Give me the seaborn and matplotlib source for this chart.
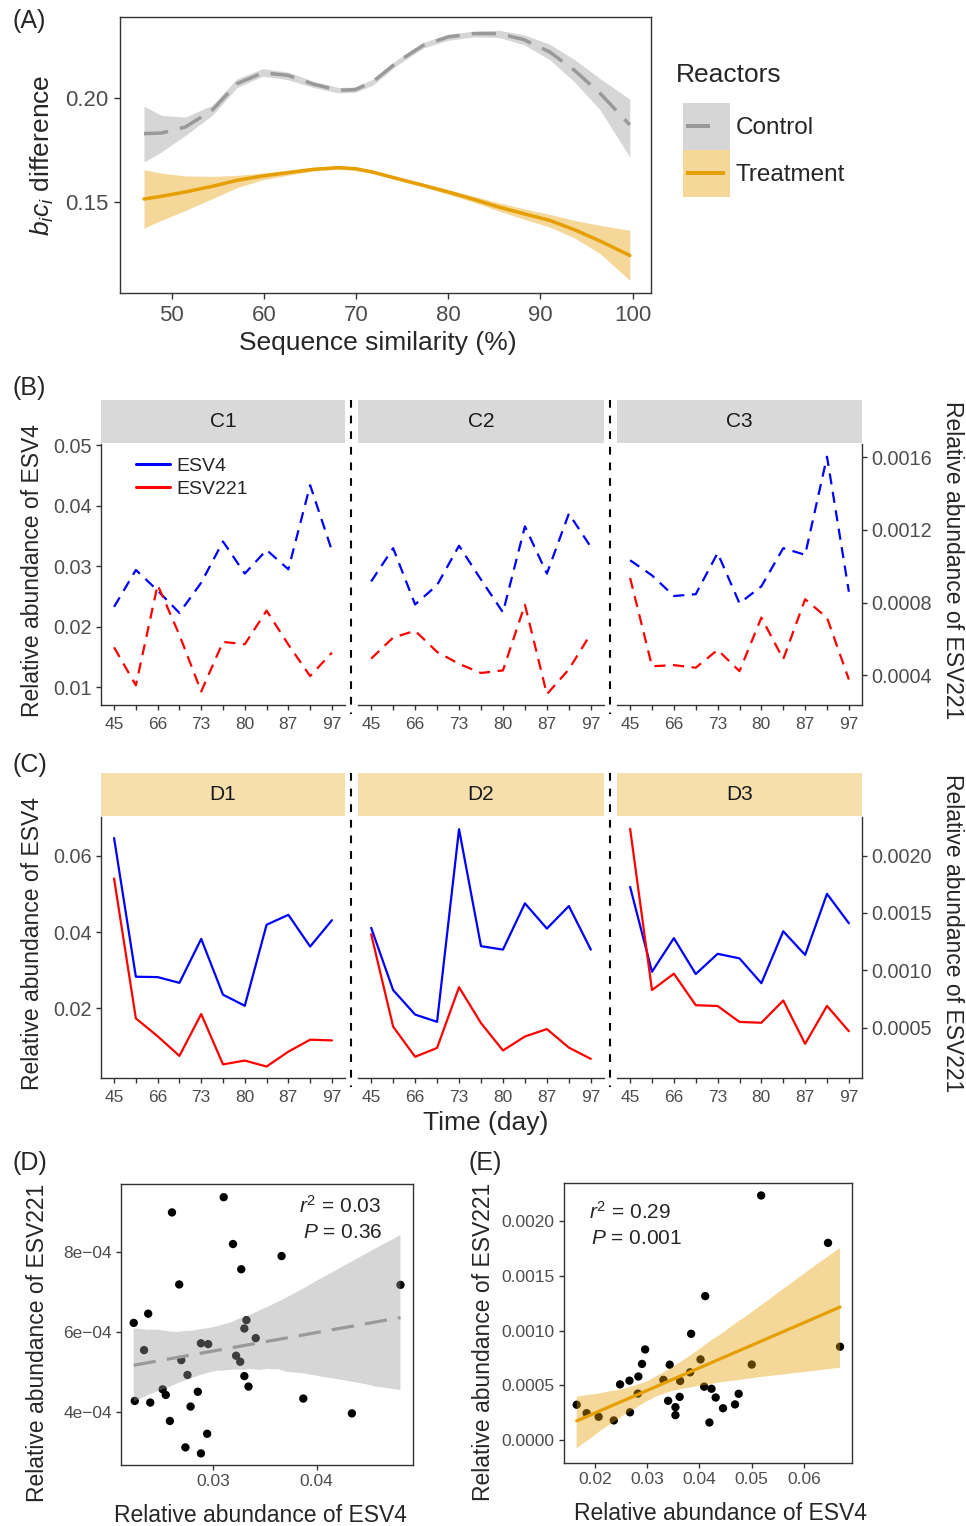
import numpy as np
import pandas as pd
import seaborn as sns
import matplotlib.pyplot as plt
from matplotlib.lines import Line2D
from matplotlib.patches import Patch, Rectangle
from matplotlib.collections import PolyCollection
from matplotlib.legend_handler import HandlerTuple, HandlerPatch
from matplotlib.ticker import FuncFormatter

# ---------------- data ----------------
# (A) smoothed b_ic_i difference along sequence similarity (fit + 95% band)
similarity = [47.0, 48.9, 51.5, 54.4, 57.1, 59.9, 62.6, 65.4, 68.1, 69.9, 71.8,
              74.5, 77.3, 80.0, 82.8, 85.5, 88.2, 91.0, 93.7, 96.5, 99.7]
control_fit = [0.1828, 0.1831, 0.1860, 0.1941, 0.2069, 0.2121, 0.2109, 0.2066, 0.2037, 0.2040, 0.2077,
               0.2174, 0.2254, 0.2294, 0.2310, 0.2310, 0.2281, 0.2222, 0.2133, 0.2021, 0.1870]
control_lo = [0.1691, 0.1740, 0.1820, 0.1916, 0.2050, 0.2105, 0.2088, 0.2050, 0.2024, 0.2027, 0.2061,
              0.2159, 0.2240, 0.2278, 0.2294, 0.2291, 0.2257, 0.2185, 0.2077, 0.1941, 0.1715]
control_hi = [0.1960, 0.1916, 0.1908, 0.1965, 0.2093, 0.2141, 0.2125, 0.2080, 0.2050, 0.2053, 0.2090,
              0.2186, 0.2267, 0.2307, 0.2322, 0.2326, 0.2305, 0.2259, 0.2185, 0.2093, 0.1994]
treatment_fit = [0.1513, 0.1526, 0.1547, 0.1574, 0.1603, 0.1624, 0.1640, 0.1656, 0.1664, 0.1659, 0.1643,
                 0.1611, 0.1579, 0.1547, 0.1511, 0.1474, 0.1442, 0.1410, 0.1365, 0.1310, 0.1241]
treatment_lo = [0.1373, 0.1410, 0.1458, 0.1514, 0.1568, 0.1606, 0.1627, 0.1648, 0.1656, 0.1651, 0.1635,
                0.1603, 0.1571, 0.1535, 0.1497, 0.1455, 0.1416, 0.1378, 0.1325, 0.1249, 0.1121]
treatment_hi = [0.1654, 0.1638, 0.1624, 0.1622, 0.1627, 0.1638, 0.1651, 0.1664, 0.1672, 0.1669, 0.1651,
                0.1619, 0.1587, 0.1558, 0.1526, 0.1495, 0.1466, 0.1439, 0.1410, 0.1386, 0.1362]

# (B)/(C) relative abundance over 11 samplings per reactor
day_labels = ['45', '', '66', '', '73', '', '80', '', '87', '', '97']
sampling = np.arange(len(day_labels))

control_reactors = ['C1', 'C2', 'C3']
control_esv4 = [
    [0.0233, 0.0294, 0.0260, 0.0223, 0.0273, 0.0341, 0.0288, 0.0327, 0.0295, 0.0434, 0.0326],
    [0.0275, 0.0330, 0.0237, 0.0269, 0.0334, 0.0278, 0.0224, 0.0366, 0.0288, 0.0387, 0.0332],
    [0.0310, 0.0285, 0.0251, 0.0254, 0.0322, 0.0239, 0.0267, 0.0330, 0.0319, 0.0481, 0.0258],
]
control_esv221 = [
    [0.000554, 0.000345, 0.000898, 0.000622, 0.000311, 0.000584, 0.000571, 0.000756, 0.000569, 0.000396, 0.000525],
    [0.000492, 0.000608, 0.000645, 0.000529, 0.000463, 0.000413, 0.000427, 0.000789, 0.000296, 0.000433, 0.000629],
    [0.000936, 0.000450, 0.000456, 0.000442, 0.000540, 0.000423, 0.000718, 0.000489, 0.000819, 0.000717, 0.000377],
]

treatment_reactors = ['D1', 'D2', 'D3']
treatment_esv4 = [
    [0.0646, 0.0283, 0.0282, 0.0267, 0.0382, 0.0236, 0.0207, 0.0419, 0.0445, 0.0362, 0.0431],
    [0.0411, 0.0248, 0.0184, 0.0165, 0.0669, 0.0363, 0.0354, 0.0475, 0.0409, 0.0468, 0.0354],
    [0.0518, 0.0296, 0.0384, 0.0290, 0.0343, 0.0331, 0.0266, 0.0402, 0.0340, 0.0500, 0.0423],
]
treatment_esv221 = [
    [0.001800, 0.000580, 0.000424, 0.000253, 0.000618, 0.000179, 0.000212, 0.000160, 0.000290, 0.000394, 0.000388],
    [0.001314, 0.000508, 0.000245, 0.000322, 0.000852, 0.000539, 0.000300, 0.000422, 0.000487, 0.000325, 0.000227],
    [0.002233, 0.000827, 0.000970, 0.000695, 0.000688, 0.000549, 0.000542, 0.000736, 0.000358, 0.000689, 0.000468],
]

# ---------------- style ----------------
sns.set_style("ticks")
plt.rcParams['font.family'] = ['Liberation Sans', 'DejaVu Sans']
plt.rcParams['mathtext.fontset'] = 'custom'
plt.rcParams['mathtext.rm'] = 'Liberation Sans'
plt.rcParams['mathtext.it'] = 'Liberation Sans:italic'
plt.rcParams['axes.unicode_minus'] = True

GRAY_LINE = '#999999'
ORANGE = '#E69F00'
AXIS_COL = '#333333'
TICK_TXT = '#4D4D4D'

W, H = 966, 1526
fig = plt.figure(figsize=(W / 100, H / 100), dpi=100)


def box(l, t, r, b):
    return [l / W, 1 - b / H, (r - l) / W, (b - t) / H]


def fx(x):
    return x / W


def fy(y):
    return 1 - y / H


def style_spines(ax, sides):
    for s in ['left', 'right', 'top', 'bottom']:
        ax.spines[s].set_visible(s in sides)
        ax.spines[s].set_color(AXIS_COL)
        ax.spines[s].set_linewidth(1.0)


def style_ticks(ax, size):
    ax.tick_params(colors=AXIS_COL, labelcolor=TICK_TXT, labelsize=size,
                   length=3.6, width=1.0, pad=3)


def key_bar(length):
    # short thick bar centred in the legend key (ggplot-style line key)
    def make(legend, orig_handle, xdescent, ydescent, width, height, fontsize):
        th = 2.8
        return Rectangle((-xdescent + 2.2, height / 2 - ydescent - th / 2),
                         length(width), th)
    return make


# ---------------- (A) ----------------
axA = fig.add_axes(box(120, 17, 651, 293))
axA.fill_between(similarity, control_lo, control_hi, color=GRAY_LINE, alpha=0.4, lw=0)
axA.fill_between(similarity, treatment_lo, treatment_hi, color=ORANGE, alpha=0.4, lw=0)
sns.lineplot(x=similarity, y=control_fit, ax=axA, color=GRAY_LINE, lw=2.5,
             linestyle=(0, (7, 3.5)))
sns.lineplot(x=similarity, y=treatment_fit, ax=axA, color=ORANGE, lw=2.5)
axA.set_xlim(44.4, 102.0)
axA.set_ylim(0.106, 0.239)
axA.set_xticks([50, 60, 70, 80, 90, 100])
axA.set_yticks([0.15, 0.20])
axA.yaxis.set_major_formatter(FuncFormatter(lambda v, p: f"{v:.2f}"))
axA.set_xlabel('')
axA.set_ylabel('')
style_spines(axA, ['left', 'right', 'top', 'bottom'])
style_ticks(axA, 16)
axA.tick_params(length=4.5, pad=4)

fig.text(fx(378), fy(343), 'Sequence similarity (%)', ha='center', va='center', fontsize=19)
fig.text(fx(42), fy(155), r'$b_ic_i$ difference', ha='center', va='center',
         rotation=90, fontsize=19)

fig.text(fx(676), fy(75), 'Reactors', ha='left', va='center', fontsize=19)
ctrl_bar = Patch(facecolor=GRAY_LINE, edgecolor='none')
trt_bar = Patch(facecolor=ORANGE, edgecolor='none')
handles_A = [
    (Patch(facecolor=GRAY_LINE, alpha=0.4, edgecolor='none'), ctrl_bar),
    (Patch(facecolor=ORANGE, alpha=0.4, edgecolor='none'), trt_bar),
]
fig.legend(handles=handles_A, labels=['Control', 'Treatment'],
           handler_map={tuple: HandlerTuple(ndivide=1, pad=0),
                        ctrl_bar: HandlerPatch(patch_func=key_bar(lambda w: 17.3)),
                        trt_bar: HandlerPatch(patch_func=key_bar(lambda w: w - 5.5))},
           loc='upper left', bbox_to_anchor=(fx(683), fy(103)), frameon=False,
           fontsize=17.5, handlelength=1.93, handleheight=2.59, labelspacing=0,
           handletextpad=0.25, borderpad=0, borderaxespad=0)


# ---------------- (B) and (C) ----------------
FACET_X = [(101, 345), (358, 604), (617, 862)]


def facet_row(reactors, esv4, esv221, strip_top, panel_bottom, strip_color,
              ylim, lticks, rticks, lfmt, rfmt, line_style, legend=False):
    strip_bottom = strip_top + 43
    for i, (name, (l, r)) in enumerate(zip(reactors, FACET_X)):
        strip = fig.add_axes(box(l, strip_top, r, strip_bottom))
        strip.set_facecolor(strip_color)
        strip.set_xticks([])
        strip.set_yticks([])
        style_spines(strip, [])
        strip.text(0.5, 0.5, name, ha='center', va='center', fontsize=15,
                   transform=strip.transAxes, color='#1A1A1A')

        ax = fig.add_axes(box(l, strip_bottom + 1, r, panel_bottom))
        ax.set_facecolor('none')
        sns.lineplot(x=sampling, y=esv4[i], ax=ax, color='blue', lw=1.6,
                     linestyle=line_style)
        ax.set_xlim(-0.6, 10.6)
        ax.set_ylim(*ylim)
        ax.set_xticks(sampling)
        ax.set_xticklabels(day_labels)
        ax.set_yticks(lticks)
        ax.yaxis.set_major_formatter(FuncFormatter(lfmt))
        ax.set_xlabel('')
        ax.set_ylabel('')

        tw = ax.twinx()
        sns.lineplot(x=sampling, y=esv221[i], ax=tw, color='red', lw=1.6,
                     linestyle=line_style)
        tw.set_ylim(ylim[0] / 30, ylim[1] / 30)
        tw.set_yticks(rticks)
        tw.yaxis.set_major_formatter(FuncFormatter(rfmt))
        tw.set_ylabel('')
        tw.set_xlabel('')

        style_ticks(ax, 12.5)
        style_ticks(tw, 14.3)
        ax.tick_params(axis='y', labelsize=14.3)
        ax.tick_params(axis='x', pad=5)
        if i == 0:
            style_spines(ax, ['left', 'bottom'])
        else:
            style_spines(ax, ['bottom'])
            ax.tick_params(axis='y', left=False, labelleft=False)
        if i == 2:
            style_spines(tw, ['right'])
        else:
            style_spines(tw, [])
            tw.tick_params(axis='y', right=False, labelright=False)

        if legend and i == 0:
            lh = [Line2D([], [], color='blue', lw=2.2), Line2D([], [], color='red', lw=2.2)]
            ax.legend(handles=lh, labels=['ESV4', 'ESV221'], loc='upper left',
                      bbox_to_anchor=(fx(136), fy(457)), bbox_transform=fig.transFigure,
                      frameon=False, fontsize=14, handlelength=1.75, handletextpad=0.35,
                      labelspacing=0.3, borderpad=0, borderaxespad=0)

    for xsep in (351, 610):
        fig.add_artist(Line2D([fx(xsep), fx(xsep)], [fy(strip_top), fy(panel_bottom + 9)],
                              transform=fig.transFigure, color='black', lw=1.5,
                              linestyle=(0, (3.7, 3.8))))

    mid = (strip_bottom + panel_bottom) / 2
    fig.text(fx(33), fy(mid - 3), 'Relative abundance of ESV4', rotation=90,
             ha='center', va='center', fontsize=16.5)
    fig.text(fx(952), fy(mid - 14), 'Relative abundance of ESV221', rotation=270,
             ha='center', va='center', fontsize=16.5)


facet_row(control_reactors, control_esv4, control_esv221, 400, 705, '#D9D9D9',
          (0.0071, 0.0502), [0.01, 0.02, 0.03, 0.04, 0.05],
          [0.0004, 0.0008, 0.0012, 0.0016],
          lambda v, p: f"{v:.2f}", lambda v, p: f"{v:.4f}",
          (0, (5, 3.4)), legend=True)

facet_row(treatment_reactors, treatment_esv4, treatment_esv221, 773, 1078, '#F5DFAD',
          (0.0018, 0.0701), [0.02, 0.04, 0.06],
          [0.0005, 0.0010, 0.0015, 0.0020],
          lambda v, p: f"{v:.2f}", lambda v, p: f"{v:.4f}",
          '-')

fig.text(fx(486), fy(1123), 'Time (day)', ha='center', va='center', fontsize=19)


# ---------------- (D) and (E) ----------------
def scatter_panel(rect, xs, ys, color, line_style, xlim, ylim, xticks, yticks, yfmt, xfmt):
    ax = fig.add_axes(rect)
    sns.scatterplot(x=xs, y=ys, ax=ax, color='black', s=36, edgecolor='none', linewidth=0)
    sns.regplot(x=xs, y=ys, ax=ax, scatter=False, color=color, ci=95, seed=3,
                line_kws=dict(lw=2.3, linestyle=line_style))
    for coll in ax.collections:
        if isinstance(coll, PolyCollection):
            coll.set_facecolor(color)
            coll.set_alpha(0.4)
            coll.set_edgecolor('none')
    ax.set_xlim(*xlim)
    ax.set_ylim(*ylim)
    ax.set_xticks(xticks)
    ax.set_yticks(yticks)
    ax.xaxis.set_major_formatter(FuncFormatter(xfmt))
    ax.yaxis.set_major_formatter(FuncFormatter(yfmt))
    ax.set_xlabel('')
    ax.set_ylabel('')
    style_spines(ax, ['left', 'right', 'top', 'bottom'])
    style_ticks(ax, 12.5)
    return ax


ctrl_x = np.concatenate(control_esv4)
ctrl_y = np.concatenate(control_esv221)
trt_x = np.concatenate(treatment_esv4)
trt_y = np.concatenate(treatment_esv221)

axD = scatter_panel(box(121, 1184, 413, 1465), ctrl_x, ctrl_y, GRAY_LINE, (0, (7, 3.5)),
                    (0.02107, 0.04931), (2.67e-4, 9.69e-4), [0.03, 0.04],
                    [4e-4, 6e-4, 8e-4],
                    lambda v, p: f"{v:.0e}".replace('-', '\u2212'),
                    lambda v, p: f"{v:.2f}")
axE = scatter_panel(box(564, 1183, 852, 1463), trt_x, trt_y, ORANGE, '-',
                    (0.01407, 0.06919), (-0.00021, 0.002347),
                    [0.02, 0.03, 0.04, 0.05, 0.06],
                    [0.0, 0.0005, 0.0010, 0.0015, 0.0020],
                    lambda v, p: f"{v:.4f}",
                    lambda v, p: f"{v:.2f}")

fig.text(fx(381), fy(1206), r'$r^2$ = 0.03', ha='right', va='center', fontsize=15)
fig.text(fx(382), fy(1233), r'$P$ = 0.36', ha='right', va='center', fontsize=15)
fig.text(fx(589), fy(1212), r'$r^2$ = 0.29', ha='left', va='center', fontsize=15)
fig.text(fx(591), fy(1239), r'$P$ = 0.001', ha='left', va='center', fontsize=15)

fig.text(fx(38), fy(1343), 'Relative abundance of ESV221', rotation=90,
         ha='center', va='center', fontsize=16.5)
fig.text(fx(260), fy(1516), 'Relative abundance of ESV4', ha='center', va='center',
         fontsize=16.5)
fig.text(fx(484), fy(1342), 'Relative abundance of ESV221', rotation=90,
         ha='center', va='center', fontsize=16.5)
fig.text(fx(720), fy(1513), 'Relative abundance of ESV4', ha='center', va='center',
         fontsize=16.5)

# panel tags
for tag, x, y in [('(A)', 12, 21), ('(B)', 12, 388), ('(C)', 12, 765),
                  ('(D)', 12, 1163), ('(E)', 468, 1163)]:
    fig.text(fx(x), fy(y), tag, ha='left', va='center', fontsize=18)

fig.savefig('out.png', dpi=100)
